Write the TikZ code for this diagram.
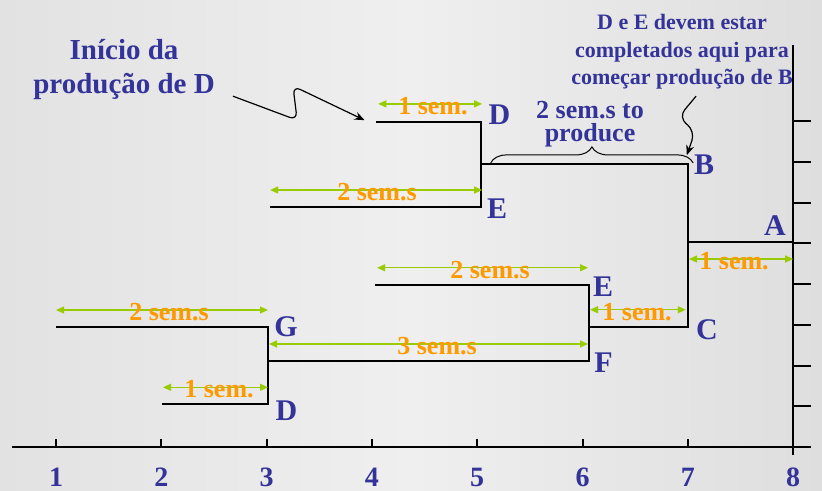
\documentclass[tikz,border=0pt]{standalone}
\usepackage{fontspec}
\setmainfont{Liberation Serif}
\usepackage{xcolor}
\usetikzlibrary{arrows.meta, decorations.pathreplacing}
\definecolor{azul}{RGB}{51,51,153}
\definecolor{laranja}{RGB}{255,153,0}
\definecolor{verde}{RGB}{153,204,0}
\definecolor{fundoA}{RGB}{226,226,226}
\definecolor{fundoB}{RGB}{239,239,239}
\definecolor{fundoC}{RGB}{222,222,222}

\begin{document}
\begin{tikzpicture}[x=1.8505cm, y=0.7152cm,
  estrutura/.style={line width=1pt},
  eixo/.style={line width=1.25pt},
  cota/.style={draw=verde, line width=0.6pt, {Triangle[length=4pt,width=3.5pt]}-{Triangle[length=4pt,width=3.5pt]}},
  tempo/.style={text=laranja, font=\fontsize{13}{13}\selectfont\bfseries, inner sep=0pt, yshift=-1pt},
  letra/.style={text=azul, font=\fontsize{15}{15}\selectfont\bfseries, inner sep=0pt},
  numero/.style={text=azul, font=\fontsize{14}{14}\selectfont\bfseries, inner sep=0pt},
  nota/.style={text=azul, align=center, inner sep=0pt},
  seta/.style={line width=0.6pt, rounded corners=4pt, -{Stealth[length=5pt,width=4pt]}}]

  % Fundo
  \useasboundingbox (0.468,-1.057) rectangle (8.274,10.983);
  \shade[left color=fundoA, right color=fundoC, middle color=fundoB] (0.468,-1.057) rectangle (8.274,10.983);

  % Eixos e marcas
  \draw[eixo] (0.582,0) -- (8.17,0);
  \draw[eixo] (8,9.877) -- (8,-0.197);
  \foreach \t in {1,...,8} {
    \draw[estrutura] (\t,0) -- (\t,0.2);
    \node[numero] (n\t) at (\t,-0.75) {\t};
  }
  \foreach \k in {1,...,8}
    \draw[estrutura] (8,\k) -- (8.167,\k);

  % Estrutura do produto A no tempo
  \draw[estrutura] (4.04,7.99) -- (5.04,7.99) -- (5.04,5.90) -- (3.03,5.90);
  \draw[estrutura] (5.04,6.95) -- (7.0,6.95) -- (7.0,2.95) -- (6.06,2.95);
  \draw[estrutura] (7.0,5.04) -- (8.0,5.04);
  \draw[estrutura] (4.03,3.99) -- (6.06,3.99) -- (6.06,2.11) -- (3.01,2.11);
  \draw[estrutura] (1.0,2.95) -- (3.01,2.95) -- (3.01,1.06) -- (2.01,1.06);

  % Itens
  \node[letra] (D1) at (5.212,8.157) {D};
  \node[letra] (B)  at (7.154,6.929) {B};
  \node[letra] (E1) at (5.188,5.848) {E};
  \node[letra] (A)  at (7.828,5.430) {A};
  \node[letra] (E2) at (6.195,3.931) {E};
  \node[letra] (C)  at (7.182,2.875) {C};
  \node[letra] (F)  at (6.199,2.064) {F};
  \node[letra] (G)  at (3.184,2.948) {G};
  \node[letra] (D2) at (3.189,0.897) {D};

  % Tempos de espera
  \foreach \xa/\xb/\y/\lx/\txt [count=\i] in {
      4.06/5.046/8.43/4.58/1 sem.,
      3.033/5.046/6.314/4.048/2 sem.s,
      4.049/6.052/4.403/5.122/2 sem.s,
      7.011/8.0/4.619/7.439/1 sem.,
      6.071/6.98/3.373/6.518/1 sem.,
      3.023/6.052/2.531/4.619/3 sem.s,
      1.0/3.013/3.366/2.073/2 sem.s,
      2.016/3.013/1.467/2.548/1 sem.} {
    \coordinate (c\i-a) at (\xa,\y);
    \coordinate (c\i-b) at (\xb,\y);
    \draw[cota] (c\i-a) -- (c\i-b);
    \node[tempo] (t\i) at (\lx,\y) {\txt};
  }

  % Chave sobre B
  \draw[line width=0.5pt, decorate, decoration={brace, amplitude=8pt}] (5.128,6.98) -- (7.05,6.98);
  \node[nota, font=\fontsize{13}{11.5}\selectfont\bfseries] (prod) at (6.071,7.93) {2 sem.s to\\produce};

  % Notas
  \node[nota, font=\fontsize{14.5}{17}\selectfont\bfseries] (inicio) at (1.646,9.263) {Início da\\produção de D};
  \node[nota, font=\fontsize{11}{13.7}\selectfont\bfseries] (aviso) at (6.945,9.705) {D e E devem estar\\completados aqui para\\começar produção de B};

  % Setas das notas
  \coordinate (p1) at (2.68,8.62);
  \coordinate (p2) at (7.078,8.62);
  \draw[seta] (p1) -- (3.29,8.03) -- (3.25,8.87) -- (3.93,8.03);
  \draw[seta, rounded corners=5pt] (p2) -- (6.91,8.1) -- (7.07,7.76) -- (6.99,7.17);
\end{tikzpicture}
\end{document}
